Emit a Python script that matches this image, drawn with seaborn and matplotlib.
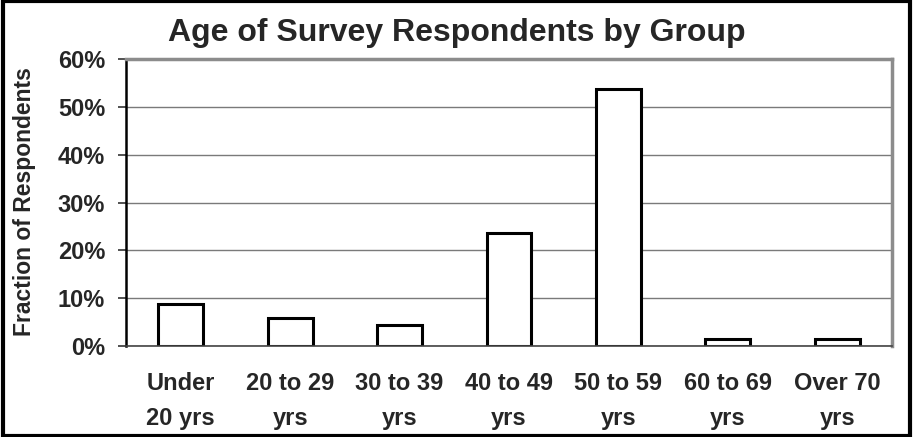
import numpy as np
import pandas as pd
import matplotlib
matplotlib.use("Agg")
import matplotlib.pyplot as plt
from matplotlib.patches import Rectangle
from matplotlib.ticker import PercentFormatter
import seaborn as sns

# Survey data: share of respondents in each age group
age_groups = ["Under\n20 yrs", "20 to 29\nyrs", "30 to 39\nyrs", "40 to 49\nyrs",
              "50 to 59\nyrs", "60 to 69\nyrs", "Over 70\nyrs"]
fractions = [0.088, 0.059, 0.045, 0.237, 0.538, 0.014, 0.014]
y_ticks = [0.0, 0.1, 0.2, 0.3, 0.4, 0.5, 0.6]

df = pd.DataFrame({"group": age_groups, "fraction": fractions})

sns.set_style("white")
plt.rcParams["font.family"] = ["Liberation Sans", "DejaVu Sans"]
plt.rcParams["font.weight"] = "bold"

LABEL_SIZE = 17

fig = plt.figure(figsize=(9.13, 4.37), dpi=100)
ax = fig.add_axes([0.138, 0.208, 0.839, 0.657])

sns.barplot(data=df, x="group", y="fraction", ax=ax, color="white",
            edgecolor="black", linewidth=2.2, width=0.41, saturation=1)

ax.set_ylim(0, 0.6)
ax.set_xlim(-0.5, len(age_groups) - 0.5)
ax.set_yticks(y_ticks)
ax.yaxis.set_major_formatter(PercentFormatter(1.0, decimals=0))
ax.yaxis.grid(True, color="#7a7a7a", linewidth=1.0)
ax.set_axisbelow(True)

# category labels centred under bars, tick marks on the boundaries
ax.set_xticks(range(len(age_groups)))
ax.set_xticklabels(age_groups, fontsize=LABEL_SIZE, fontweight="bold", linespacing=1.65)
ax.set_xticks(np.arange(-0.5, len(age_groups), 1), minor=True)
ax.tick_params(axis="x", which="major", length=0, pad=19)
ax.tick_params(axis="x", which="minor", length=6, width=1.2, color="#333333", direction="out")
ax.tick_params(axis="y", which="major", length=6, width=1.2, color="#333333",
               direction="out", pad=9, labelsize=LABEL_SIZE, left=True)
for lbl in ax.get_yticklabels():
    lbl.set_fontweight("bold")

ax.spines["left"].set_color("black")
ax.spines["left"].set_linewidth(1.8)
ax.spines["bottom"].set_color("#444444")
ax.spines["bottom"].set_linewidth(1.2)
for side in ("top", "right"):
    ax.spines[side].set_visible(True)
    ax.spines[side].set_color("#8c8c8c")
    ax.spines[side].set_linewidth(2.5)

ax.set_xlabel("")
ax.set_ylabel("")
fig.text(25 / 913, 0.538, "Fraction of Respondents", rotation=90, ha="center", va="center",
         fontsize=16.5, fontweight="bold")

fig.text(0.5, 0.925, "Age of Survey Respondents by Group", ha="center", va="center",
         fontsize=23, fontweight="bold")

# outer frame around the whole chart
fig.patches.append(Rectangle((0.003, 0.003), 0.994, 0.994, transform=fig.transFigure,
                             fill=False, edgecolor="black", linewidth=3))

fig.savefig("out.png", dpi=100, facecolor="white")
